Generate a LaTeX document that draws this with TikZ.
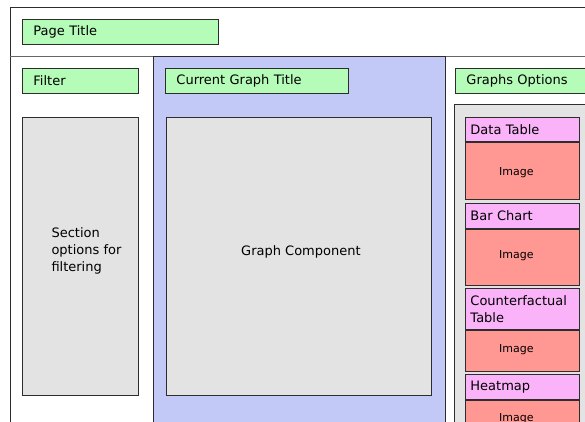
\documentclass[tikz,border=0pt]{standalone}
\usepackage{fontspec}
\setmainfont{DejaVu Sans}
\definecolor{titlegreen}{RGB}{181,252,184}
\definecolor{panelblue}{RGB}{194,201,247}
\definecolor{boxgray}{RGB}{227,227,227}
\definecolor{cardpink}{RGB}{250,179,248}
\definecolor{cardred}{RGB}{255,152,146}
\definecolor{edge}{RGB}{45,45,45}
\tikzset{
  px/.style={x=1pt,y=-1pt},
  frame/.style={draw=edge,line width=0.9pt},
  titlebox/.style={frame,fill=titlegreen,anchor=north west,inner xsep=11pt,inner ysep=0pt,
    font=\fontsize{13}{16}\selectfont,align=left},
  graybox/.style={frame,fill=boxgray,anchor=north west,inner sep=0pt},
  cardhead/.style={frame,fill=cardpink,anchor=north west,inner xsep=5pt,inner ysep=0pt,
    font=\fontsize{13}{17}\selectfont,align=left,minimum width=114pt,text width=104pt},
  cardbody/.style={frame,fill=cardred,anchor=north west,inner sep=0pt,minimum width=114pt},
  caption/.style={font=\fontsize{13}{17}\selectfont,align=left,inner sep=0pt},
  imgtext/.style={font=\fontsize{11}{13}\selectfont,inner sep=0pt}
}
\begin{document}
\begin{tikzpicture}[px]
\useasboundingbox (0,0) rectangle (585,421);
\begin{scope}
\clip (0,0) rectangle (585,421);
\fill[white] (0,0) rectangle (585,421);
% page frame and header divider
\draw[frame] (600,7) -- (10,7) -- (10,440);
\draw[draw=gray!80!black,line width=0.9pt] (10,56) -- (600,56);
% central blue panel
\draw[frame,fill=panelblue] (153,56) rectangle (445,440);
% page title
\node[titlebox,minimum width=196pt,minimum height=25pt,text width=174pt] (pagetitle) at (22,19) {Page Title};
% left column
\node[titlebox,minimum width=116pt,minimum height=25pt,text width=94pt] (filter) at (22,68) {Filter};
\node[graybox,minimum width=116pt,minimum height=278pt] (section) at (22,117) {};
\node[caption] (sectiontext) at ([xshift=6pt,yshift=6pt]section.center) {Section\\options for\\filtering};
% middle column
\node[titlebox,minimum width=183pt,minimum height=25pt,text width=161pt] (graphtitle) at (165,68) {Current Graph Title};
\node[graybox,minimum width=265pt,minimum height=278pt] (graph) at (166,117) {};
\node[caption] (graphtext) at ([xshift=2pt,yshift=5pt]graph.center) {Graph Component};
% right column
\node[titlebox,minimum width=140pt,minimum height=25pt,text width=118pt] (options) at (455,68) {Graphs Options};
\node[graybox,minimum width=150pt,minimum height=340pt] (optpanel) at (454,104) {};
% cards
\node[cardhead,minimum height=24pt] (h1) at (465,117) {Data Table};
\node[cardbody,minimum height=57pt] (b1) at (h1.south west) {};
\node[imgtext] (i1) at ([xshift=-6pt,yshift=-2pt]b1.center) {Image};
\node[cardhead,minimum height=25pt] (h2) at (465,203) {Bar Chart};
\node[cardbody,minimum height=56pt] (b2) at (h2.south west) {};
\node[imgtext] (i2) at ([xshift=-6pt,yshift=2pt]b2.center) {Image};
\node[cardhead,minimum height=41pt] (h3) at (465,288) {Counterfactual\\Table};
\node[cardbody,minimum height=41pt] (b3) at (h3.south west) {};
\node[imgtext] (i3) at ([xshift=-6pt,yshift=1pt]b3.center) {Image};
\node[cardhead,minimum height=25pt] (h4) at (465,374) {Heatmap};
\node[cardbody,minimum height=40pt] (b4) at (h4.south west) {};
\node[imgtext] (i4) at ([xshift=-6pt,yshift=2pt]b4.center) {Image};
\end{scope}
\end{tikzpicture}
\end{document}
